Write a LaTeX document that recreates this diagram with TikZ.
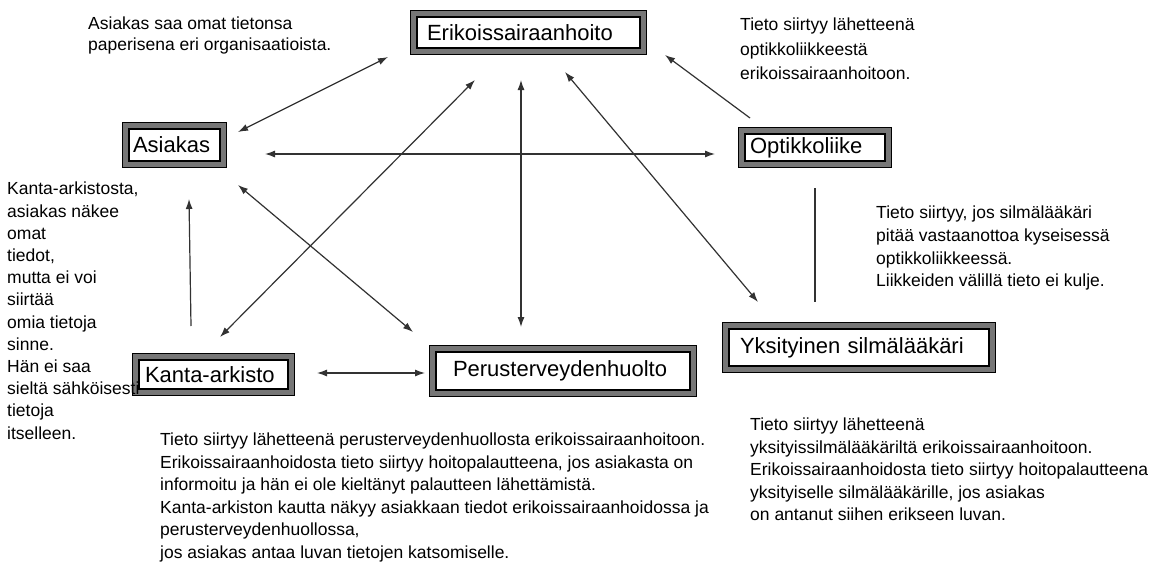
\documentclass[tikz,border=0pt]{standalone}
\usepackage{fontspec}
\setmainfont{Liberation Sans}
\usetikzlibrary{arrows.meta}
\definecolor{bandgray}{RGB}{118,118,118}
\definecolor{linecol}{RGB}{50,50,50}
\begin{document}
\begin{tikzpicture}[x=1pt,y=-1pt,
  >={Latex[length=10pt,width=7pt]},
  orgbox/.style={rectangle, fill=white, draw=black, line width=2pt,
    inner ysep=0pt, align=left, font=\fontsize{22}{26}\selectfont,
    preaction={draw=black, line width=14pt},
    preaction={draw=bandgray, line width=12pt}},
  note/.style={anchor=north west, inner sep=0pt, align=left},
  conn/.style={draw=linecol, line width=1.2pt}]
\useasboundingbox[fill=white] (0,0) rectangle (1151,586);

% boxes
\node[orgbox, text width=203pt, inner xsep=10pt, minimum height=31pt] (erik) at (528.5,32.5) {Erikoissairaanhoito};
\node[orgbox, text width=83pt, inner xsep=4pt, minimum height=32pt] (asiakas) at (174.5,145) {Asiakas};
\node[orgbox, text width=130pt, inner xsep=5pt, minimum height=27pt] (optik) at (815,147.5) {Optikkoliike};
\node[orgbox, text width=238pt, inner xsep=11pt, minimum height=37pt] (yksit) at (859,347.5) {Yksityinen silmälääkäri};
\node[orgbox, text width=137pt, inner xsep=6pt, minimum height=29pt] (kanta) at (213.5,374.5) {Kanta-arkisto};
\node[orgbox, text width=220pt, inner xsep=17pt, minimum height=38pt] (perus) at (563,371) {Perusterveydenhuolto};

% notes
\node[note, font=\fontsize{17.5}{20.5}\selectfont] (n1) at (88,17)
  {Asiakas saa omat tietonsa\\paperisena eri organisaatioista.};
\node[note, font=\fontsize{17.5}{24.5}\selectfont] (n2) at (740,18)
  {Tieto siirtyy lähetteenä\\optikkoliikkeestä\\erikoissairaanhoitoon.};
\node[note, font=\fontsize{17.5}{22.2}\selectfont] (n3) at (7,182)
  {Kanta-arkistosta,\\asiakas näkee\\omat\\tiedot,\\mutta ei voi\\siirtää\\omia tietoja\\sinne.\\Hän ei saa\\sieltä sähköisesti\\tietoja\\itselleen.};
\node[note, font=\fontsize{17.5}{22.7}\selectfont] (n4) at (876,206)
  {Tieto siirtyy, jos silmälääkäri\\pitää vastaanottoa kyseisessä\\optikkoliikkeessä.\\Liikkeiden välillä tieto ei kulje.};
\node[note, font=\fontsize{17.5}{22.5}\selectfont] (n5) at (750,418)
  {Tieto siirtyy lähetteenä\\yksityissilmälääkäriltä erikoissairaanhoitoon.\\Erikoissairaanhoidosta tieto siirtyy hoitopalautteena\\yksityiselle silmälääkärille, jos asiakas\\on antanut siihen erikseen luvan.};
\node[note, font=\fontsize{17.5}{22.5}\selectfont] (n6) at (160,433)
  {Tieto siirtyy lähetteenä perusterveydenhuollosta erikoissairaanhoitoon.\\Erikoissairaanhoidosta tieto siirtyy hoitopalautteena, jos asiakasta on\\informoitu ja hän ei ole kieltänyt palautteen lähettämistä.\\Kanta-arkiston kautta näkyy asiakkaan tiedot erikoissairaanhoidossa ja\\perusterveydenhuollossa,\\jos asiakas antaa luvan tietojen katsomiselle.};

% connector end points
\coordinate (aE1) at (238,132);  \coordinate (eA1) at (388,57);
\coordinate (aO1) at (265,154);  \coordinate (oA1) at (715,154);
\coordinate (oE1) at (750,118);  \coordinate (eO1) at (665,55);
\coordinate (kE1) at (220,337);  \coordinate (eK1) at (475,80);
\coordinate (eP1) at (521,80);   \coordinate (pE1) at (521,327);
\coordinate (eY1) at (565,72);   \coordinate (yE1) at (758,302);
\coordinate (aP1) at (238,185);  \coordinate (pA1) at (413,332);
\coordinate (kA1) at (191,326);  \coordinate (aK1) at (189,199);
\coordinate (kP1) at (317,373);  \coordinate (pK1) at (425,373);
\coordinate (oY1) at (815,188);  \coordinate (yO1) at (815,302);

% connectors
\draw[conn,<->] (aE1) -- (eA1);
\draw[conn,<->] (aO1) -- (oA1);
\draw[conn,->] (oE1) -- (eO1);
\draw[conn,<->] (kE1) -- (eK1);
\draw[conn,<->] (eP1) -- (pE1);
\draw[conn,<->] (eY1) -- (yE1);
\draw[conn,<->] (aP1) -- (pA1);
\draw[conn,->] (kA1) -- (aK1);
\draw[conn,<->] (kP1) -- (pK1);
\draw[conn] (oY1) -- (yO1);
\end{tikzpicture}
\end{document}
